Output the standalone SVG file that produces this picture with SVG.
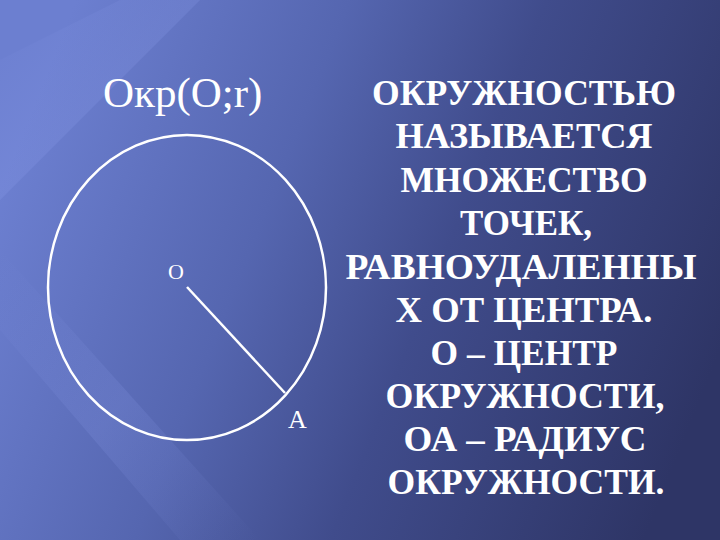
<svg xmlns="http://www.w3.org/2000/svg" width="720" height="540" viewBox="0 0 720 540">
<defs>
<linearGradient id="bg" x1="0" y1="0.35" x2="1" y2="0.65">
<stop offset="0" stop-color="#6c7fd0"/>
<stop offset="0.35" stop-color="#5566b0"/>
<stop offset="0.6" stop-color="#404c8c"/>
<stop offset="1" stop-color="#2e3566"/>
</linearGradient>
<linearGradient id="streak" x1="0" y1="0" x2="1" y2="1">
<stop offset="0" stop-color="#8fa0ee" stop-opacity="0"/>
<stop offset="0.5" stop-color="#8fa0ee" stop-opacity="0.35"/>
<stop offset="1" stop-color="#8fa0ee" stop-opacity="0"/>
</linearGradient>
<style>
.lbl{font-family:"Liberation Serif","Times New Roman",serif;fill:#ffffff}
.body{font-family:"Liberation Serif","Times New Roman",serif;font-weight:bold;font-size:35px;fill:#ffffff;text-anchor:middle}
.geo{fill:none;stroke:#ffffff;stroke-width:2.5}
</style>
</defs>
<rect width="720" height="540" fill="url(#bg)"/>
<polygon points="0,60 120,0 200,0 0,200" fill="url(#streak)" opacity="0.6"/>
<polygon points="0,250 260,540 180,540 0,330" fill="url(#streak)" opacity="0.5"/>
<g id="title"><text class="lbl" x="103" y="107" font-size="43">Окр(O;r)</text></g>
<g id="circle"><ellipse class="geo" cx="187" cy="287.5" rx="139" ry="152.5"/></g>
<g id="connectors"><line class="geo" x1="187" y1="287" x2="285" y2="393"/></g>
<g id="pointO"><text class="lbl" x="168" y="279" font-size="22">O</text></g>
<g id="pointA"><text class="lbl" x="288" y="428" font-size="26">A</text></g>
<g id="definition">
<text class="body" x="524" y="105" textLength="304" lengthAdjust="spacingAndGlyphs">ОКРУЖНОСТЬЮ</text>
<text class="body" x="524" y="148" textLength="257" lengthAdjust="spacingAndGlyphs">НАЗЫВАЕТСЯ</text>
<text class="body" x="524" y="192" textLength="247" lengthAdjust="spacingAndGlyphs">МНОЖЕСТВО</text>
<text class="body" x="526" y="235" textLength="132" lengthAdjust="spacingAndGlyphs">ТОЧЕК,</text>
<text class="body" x="521" y="279" textLength="351" lengthAdjust="spacingAndGlyphs">РАВНОУДАЛЕННЫ</text>
<text class="body" x="524" y="322" textLength="257" lengthAdjust="spacingAndGlyphs">Х ОТ ЦЕНТРА.</text>
<text class="body" x="524" y="365" textLength="187" lengthAdjust="spacingAndGlyphs">О – ЦЕНТР</text>
<text class="body" x="525" y="408" textLength="279" lengthAdjust="spacingAndGlyphs">ОКРУЖНОСТИ,</text>
<text class="body" x="525" y="451" textLength="243" lengthAdjust="spacingAndGlyphs">ОА – РАДИУС</text>
<text class="body" x="526" y="494" textLength="277" lengthAdjust="spacingAndGlyphs">ОКРУЖНОСТИ.</text>
</g>
</svg>
